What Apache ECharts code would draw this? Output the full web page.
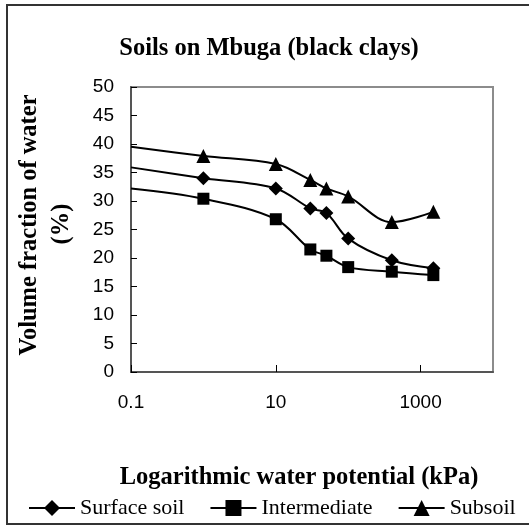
<!DOCTYPE html>
<html>
<head>
<meta charset="utf-8">
<script src="https://cdn.jsdelivr.net/npm/echarts@6/dist/echarts.min.js"></script>
<style>
html,body{margin:0;padding:0;background:#fff;}
#c{width:529px;height:525px;}
</style>
</head>
<body>
<div id="c"></div>
<script>
var potentials = [0.1, 1, 10, 30, 50, 100, 400, 1500];
var surfaceSoil = [35.9, 34.0, 32.2, 28.7, 27.9, 23.4, 19.6, 18.2];
var intermediate = [32.2, 30.4, 26.8, 21.5, 20.4, 18.4, 17.6, 17.0];
var subsoil = [39.5, 37.9, 36.5, 33.7, 32.2, 30.8, 26.3, 28.1];
var seriesNames = ['Surface soil', 'Intermediate', 'Subsoil'];
var xTickLabels = ['0.1', '10', '1000'];
var chartTitle = 'Soils on Mbuga (black clays)';
var xTitle = 'Logarithmic water potential (kPa)';
var yTitle1 = 'Volume fraction of water';
var yTitle2 = '(%)';

function pairs(vals) {
  return potentials.map(function (x, i) {
    var d = { value: [x, vals[i]] };
    if (i === 0) d.symbol = 'none';
    return d;
  });
}

var serif = '"Liberation Serif", "Times New Roman", serif';
var sans = '"Liberation Sans", Arial, sans-serif';

function mkSeries(name, vals, symbol, size) {
  return {
    name: name,
    type: 'line',
    data: pairs(vals),
    smooth: 0.35,
    symbol: symbol,
    symbolSize: size,
    showAllSymbol: true,
    lineStyle: { color: '#000', width: 2 },
    itemStyle: { color: '#000', borderWidth: 0 },
    emphasis: { disabled: true },
    z: 3
  };
}

var chart = echarts.init(document.getElementById('c'), null, { renderer: 'canvas' });
chart.setOption({
  animation: false,
  backgroundColor: '#fff',
  grid: {
    left: 131, top: 87, width: 362, height: 285,
    show: true, borderColor: '#8c8c8c', borderWidth: 2, backgroundColor: 'transparent'
  },
  xAxis: {
    type: 'log',
    logBase: 10,
    min: 0.1,
    max: 10000,
    interval: 2,
    axisLine: { show: true, lineStyle: { color: '#555', width: 2 } },
    axisTick: { show: true, inside: true, length: 7, lineStyle: { color: '#000', width: 1 } },
    minorTick: { show: false },
    splitLine: { show: false },
    axisLabel: {
      show: true,
      margin: 21,
      color: '#000',
      fontFamily: sans,
      fontSize: 19,
      showMaxLabel: false,
      formatter: function (v) {
        var s = String(Math.round(v * 10) / 10);
        return xTickLabels.indexOf(s) >= 0 ? s : '';
      }
    }
  },
  yAxis: {
    type: 'value',
    min: 0,
    max: 50,
    interval: 5,
    axisLine: { show: true, lineStyle: { color: '#555', width: 2 } },
    axisTick: { show: true, inside: true, length: 6, lineStyle: { color: '#000', width: 1 } },
    splitLine: { show: false },
    axisLabel: { color: '#000', fontFamily: sans, fontSize: 19, margin: 17 }
  },
  legend: {
    left: 28,
    top: 497,
    padding: 0,
    itemWidth: 46,
    itemHeight: 20,
    itemGap: 25,
    textStyle: { color: '#000', fontFamily: serif, fontSize: 22 },
    data: seriesNames
  },
  series: [
    mkSeries(seriesNames[0], surfaceSoil, 'diamond', 14),
    mkSeries(seriesNames[1], intermediate, 'rect', 12),
    mkSeries(seriesNames[2], subsoil, 'triangle', 14)
  ],
  graphic: [
    { type: 'rect', shape: { x: 7, y: 5, width: 540, height: 519 }, style: { fill: 'none', stroke: '#333', lineWidth: 2 }, z: 0, silent: true },
    { type: 'text', x: 269, y: 49, style: { text: chartTitle, font: 'bold 24.5px ' + serif, fill: '#000', textAlign: 'center', textVerticalAlign: 'middle' } },
    { type: 'text', x: 299, y: 478, style: { text: xTitle, font: 'bold 24.5px ' + serif, fill: '#000', textAlign: 'center', textVerticalAlign: 'middle' } },
    { type: 'text', x: 30, y: 225, rotation: Math.PI / 2, style: { text: yTitle1, font: 'bold 24.5px ' + serif, fill: '#000', textAlign: 'center', textVerticalAlign: 'middle' } },
    { type: 'text', x: 62, y: 224, rotation: Math.PI / 2, style: { text: yTitle2, font: 'bold 24.5px ' + serif, fill: '#000', textAlign: 'center', textVerticalAlign: 'middle' } }
  ]
});
</script>
</body>
</html>
